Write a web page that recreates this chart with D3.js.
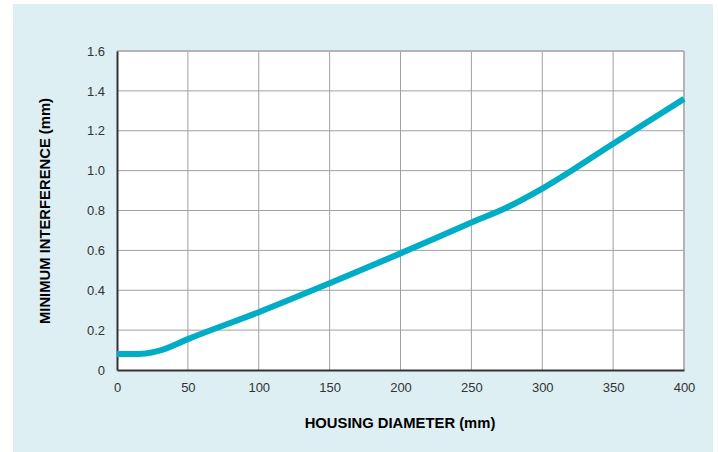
<!DOCTYPE html>
<html>
<head>
<meta charset="utf-8">
<script src="https://cdn.jsdelivr.net/npm/d3@7"></script>
<style>
  body { margin: 0; background: #fff; }
  svg text { font-family: "Liberation Sans", Arial, sans-serif; }
</style>
</head>
<body>
<svg id="chart" width="718" height="452"></svg>
<script>
// housing diameter (mm) vs minimum interference (mm)
var diameters = [0, 10, 20, 30, 50, 100, 150, 200, 250, 275, 300, 350, 400];
var interference = [0.08, 0.08, 0.083, 0.097, 0.155, 0.29, 0.435, 0.585, 0.74, 0.815, 0.91, 1.135, 1.36];
var xTicks = [0, 50, 100, 150, 200, 250, 300, 350, 400];
var yTicks = [0, 0.2, 0.4, 0.6, 0.8, 1.0, 1.2, 1.4, 1.6];

var svg = d3.select("#chart"),
    margin = {top: 51, right: 34, bottom: 82, left: 117},
    width = +svg.attr("width") - margin.left - margin.right,
    height = +svg.attr("height") - margin.top - margin.bottom;

svg.append("rect")
  .attr("x", 13).attr("y", 4)
  .attr("width", 700).attr("height", 448)
  .attr("fill", "#ddeff3");

var x = d3.scaleLinear().domain([0, 400]).range([0, width]);
var y = d3.scaleLinear().domain([0, 1.6]).range([height, 0]);

var g = svg.append("g").attr("transform", "translate(" + margin.left + "," + margin.top + ")");

g.append("rect").attr("width", width).attr("height", height).attr("fill", "#fff");

// grid
g.append("g").selectAll("line").data(xTicks.slice(1))
  .enter().append("line")
  .attr("x1", function(d) { return x(d); }).attr("x2", function(d) { return x(d); })
  .attr("y1", 0).attr("y2", height)
  .attr("stroke", function(d) { return d == 400 ? "#b4b4b4" : "#a0a0a0"; })
  .attr("stroke-width", function(d) { return d == 400 ? 2 : 1; });

g.append("g").selectAll("line").data(yTicks.slice(1))
  .enter().append("line")
  .attr("x1", 0).attr("x2", width)
  .attr("y1", function(d) { return y(d); }).attr("y2", function(d) { return y(d); })
  .attr("stroke", function(d) { return d == 1.6 ? "#b4b4b4" : "#a0a0a0"; })
  .attr("stroke-width", function(d) { return d == 1.6 ? 2 : 1; });

// axes
var xAxis = g.append("g").attr("transform", "translate(0," + height + ")")
  .call(d3.axisBottom(x).tickValues(xTicks).tickSize(0).tickPadding(13)
    .tickFormat(function(d) { return d; }));
var yAxis = g.append("g")
  .call(d3.axisLeft(y).tickValues(yTicks).tickSize(0).tickPadding(12)
    .tickFormat(function(d) { return d == 0 ? "0" : d3.format(".1f")(d); }));

[xAxis, yAxis].forEach(function(a) {
  a.select(".domain").attr("stroke", "#333").attr("stroke-width", 2);
  a.selectAll("text").attr("fill", "#333").style("font-size", "13px");
});

var line = d3.line()
  .x(function(d, i) { return x(diameters[i]); })
  .y(function(d) { return y(d); })
  .curve(d3.curveMonotoneX);

g.append("path")
  .datum(interference)
  .attr("d", line)
  .attr("fill", "none")
  .attr("stroke", "#00adc6")
  .attr("stroke-width", 6);

// titles
svg.append("text")
  .attr("x", 400).attr("y", 428)
  .attr("text-anchor", "middle")
  .style("font-size", "14.8px").style("font-weight", "bold")
  .text("HOUSING DIAMETER (mm)");

svg.append("text")
  .attr("transform", "translate(50,211) rotate(-90)")
  .attr("text-anchor", "middle")
  .style("font-size", "14.8px").style("font-weight", "bold")
  .text("MINIMUM INTERFERENCE (mm)");
</script>
</body>
</html>
